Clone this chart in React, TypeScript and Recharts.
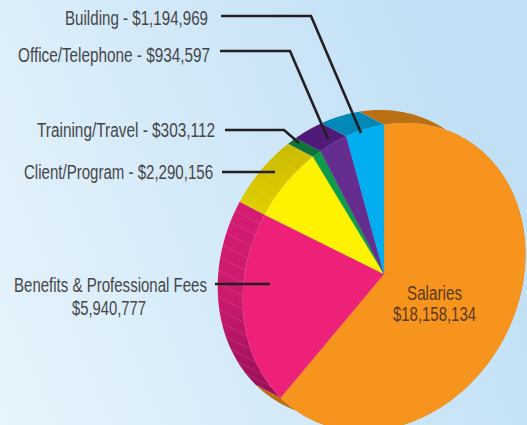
import { Pie, PieChart } from "recharts";

const categories = [
  "Salaries",
  "Benefits & Professional Fees",
  "Client/Program",
  "Training/Travel",
  "Office/Telephone",
  "Building",
];
const amounts = [18158134, 5940777, 2290156, 303112, 934597, 1194969];
const faceColors = ["#f7941e", "#ee2178", "#fff200", "#0f9b49", "#662d91", "#00aeef"];
const sideColors = ["#bb7013", "url(#pinkSide)", "url(#yellowSide)", "#0e7438", "#4f1a78", "#0088b8"];
const hatchSteps = [0, 5, 7, 0, 0, 0];

const chartData = categories.map((name, i) => ({
  name,
  value: amounts[i],
  fill: faceColors[i],
  side: sideColors[i],
  hatch: hatchSteps[i],
}));

const money = (v: number) => "$" + v.toLocaleString("en-US");

// the pie is printed in perspective: the tip sits at (384,274) and the rim is a tilted ellipse
const TIP = { x: 384, y: 274 };
const RIM = { x: 384, y: 277, a: 160, b: 134.5, tilt: (30 * Math.PI) / 180 };
const DEPTH = { x: -25, y: -13 };

// perspective also stretches the angles a bit on the left side (degrees counter-clockwise from top)
const warpFrom = [0, 30.4, 59, 133.2, 360];
const warpTo = [0, 31.2, 63.6, 140.1, 360];

function warp(deg: number) {
  for (let i = 1; i < warpFrom.length; i++) {
    if (deg <= warpFrom[i]) {
      const t = (deg - warpFrom[i - 1]) / (warpFrom[i] - warpFrom[i - 1]);
      return warpTo[i - 1] + t * (warpTo[i] - warpTo[i - 1]);
    }
  }
  return deg;
}

// recharts angle (90 = top, decreasing clockwise) to the point on the rim
function rimPoint(angle: number, shift = { x: 0, y: 0 }) {
  const ccw = ((angle - 90) % 360 + 360) % 360;
  const fromTop = ccw === 0 && angle < 90 ? 360 : ccw;
  const a = (warp(fromTop) * Math.PI) / 180;
  const dx = -Math.sin(a);
  const dy = -Math.cos(a);
  const c = Math.cos(RIM.tilt);
  const s = Math.sin(RIM.tilt);
  const toLocal = (x: number, y: number) => [(x * s - y * c) / RIM.a, (x * c + y * s) / RIM.b];
  const [ox, oy] = toLocal(TIP.x - RIM.x, TIP.y - RIM.y);
  const [ux, uy] = toLocal(dx, dy);
  const A = ux * ux + uy * uy;
  const B = ox * ux + oy * uy;
  const C = ox * ox + oy * oy - 1;
  const r = (-B + Math.sqrt(B * B - A * C)) / A;
  return { x: TIP.x + dx * r + shift.x, y: TIP.y + dy * r + shift.y };
}

function arc(start: number, end: number, shift = { x: 0, y: 0 }) {
  const n = Math.max(2, Math.ceil(Math.abs(start - end)));
  const pts = [];
  for (let i = 0; i <= n; i++) {
    pts.push(rimPoint(start + ((end - start) * i) / n, shift));
  }
  return pts;
}

const toPath = (pts: { x: number; y: number }[]) =>
  pts.map((p, i) => `${i ? "L" : "M"}${p.x.toFixed(2)} ${p.y.toFixed(2)}`).join(" ");

function FaceSlice(props: any) {
  const pts = [TIP, ...arc(props.startAngle, props.endAngle)];
  return <path d={toPath(pts) + " Z"} fill={props.payload.fill} stroke={props.payload.fill} strokeWidth={0.3} />;
}

function SideSlice(props: any) {
  const { startAngle, endAngle, payload } = props;
  const front = arc(startAngle, endAngle);
  const back = arc(startAngle, endAngle, DEPTH).reverse();
  const hatches = [];
  if (payload.hatch) {
    for (let a = startAngle - payload.hatch; a > endAngle; a -= payload.hatch) {
      const p = rimPoint(a);
      const q = rimPoint(a, DEPTH);
      hatches.push(
        <line key={a} x1={p.x} y1={p.y} x2={q.x} y2={q.y} stroke="#fff" strokeOpacity={0.17} strokeWidth={0.7} />
      );
    }
  }
  return (
    <g>
      <path d={toPath([...front, ...back]) + " Z"} fill={payload.side} />
      {hatches}
    </g>
  );
}

const leaders = [
  { name: "Building", points: "221,16 311,16 361,133" },
  { name: "Office/Telephone", points: "220,51 290,51 328,139" },
  { name: "Training/Travel", points: "225,130 284,130 299,143" },
  { name: "Client/Program", points: "222,172 275,172" },
  { name: "Benefits & Professional Fees", points: "215,284 270,284" },
];

const FONT = "'Liberation Sans', Arial, sans-serif";

export default function App() {
  const label = (name: string) => `${name} - ${money(amounts[categories.indexOf(name)])}`;
  const textProps = { fontFamily: FONT, fontSize: 19.5, fill: "#45464a", lengthAdjust: "spacingAndGlyphs" };
  return (
    <div
      style={{
        position: "absolute",
        left: 0,
        top: 0,
        width: 527,
        height: 425,
        overflow: "hidden",
        background: "linear-gradient(68deg, #e6f4fc 0%, #d3e9f8 45%, #c1e0f5 85%)",
      }}
    >
      <PieChart width={527} height={425} margin={{ top: 0, right: 0, bottom: 0, left: 0 }}>
        <defs>
          <linearGradient id="pinkSide" gradientUnits="userSpaceOnUse" x1="0" y1="200" x2="0" y2="385">
            <stop offset="0" stopColor="#d61c72" />
            <stop offset="0.55" stopColor="#c91a6c" />
            <stop offset="1" stopColor="#9c1059" />
          </linearGradient>
          <linearGradient id="yellowSide" gradientUnits="userSpaceOnUse" x1="0" y1="145" x2="0" y2="205">
            <stop offset="0" stopColor="#cbb900" />
            <stop offset="1" stopColor="#decd00" />
          </linearGradient>
        </defs>
        <Pie
          data={chartData}
          dataKey="value"
          nameKey="name"
          cx={TIP.x}
          cy={TIP.y}
          outerRadius={141}
          startAngle={90}
          endAngle={-270}
          stroke="none"
          shape={SideSlice}
          isAnimationActive={false}
        />
        <Pie
          data={chartData}
          dataKey="value"
          nameKey="name"
          cx={TIP.x}
          cy={TIP.y}
          outerRadius={141}
          startAngle={90}
          endAngle={-270}
          stroke="none"
          shape={FaceSlice}
          isAnimationActive={false}
        />
      </PieChart>
      {/* labels and leader lines go over the pie */}
      <svg width={527} height={425} style={{ position: "absolute", left: 0, top: 0 }}>
        {leaders.map((l) => (
          <polyline key={l.name} points={l.points} fill="none" stroke="#231f20" strokeWidth={2.6} />
        ))}
        <text {...textProps} x={65} y={25} textLength={143}>{label("Building")}</text>
        <text {...textProps} x={18} y={62} textLength={192}>{label("Office/Telephone")}</text>
        <text {...textProps} x={37} y={137} textLength={178}>{label("Training/Travel")}</text>
        <text {...textProps} x={24} y={179} textLength={189}>{label("Client/Program")}</text>
        <text {...textProps} x={14} y={292} textLength={193}>{categories[1]}</text>
        <text {...textProps} x={72} y={315} textLength={74}>{money(amounts[1])}</text>
        <text {...textProps} fill="#5a3a18" x={407} y={300} textLength={55}>{categories[0]}</text>
        <text {...textProps} fill="#5a3a18" x={393} y={321} textLength={83}>{money(amounts[0])}</text>
      </svg>
    </div>
  );
}
